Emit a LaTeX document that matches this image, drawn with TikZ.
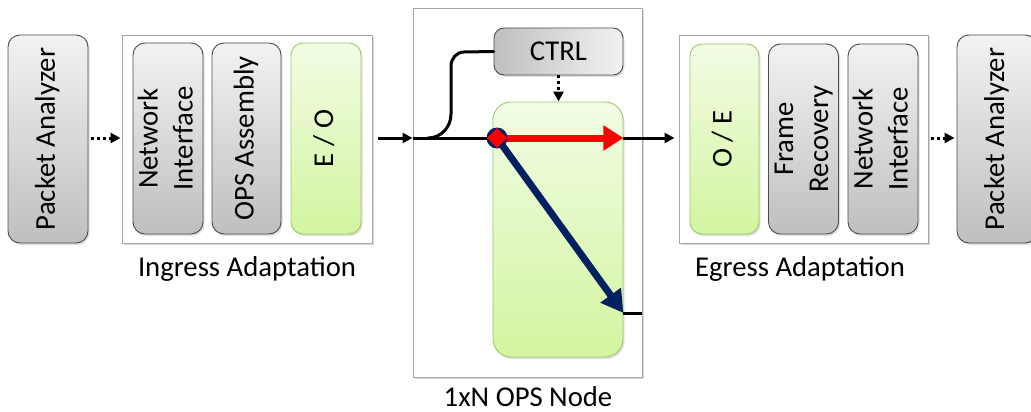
\documentclass[tikz,border=0pt]{standalone}
\usepackage{fontspec}
\setmainfont{Carlito}
\usetikzlibrary{arrows.meta,shadows,calc}
\definecolor{boxgraytop}{HTML}{F2F2F2}
\definecolor{boxgraybot}{HTML}{BFBFBF}
\definecolor{greentop}{HTML}{F2FCE4}
\definecolor{greenbot}{HTML}{D3F5A0}
\definecolor{greenline}{HTML}{9CC96B}
\definecolor{navy}{HTML}{002060}
\definecolor{framegray}{HTML}{A6A6A6}
\newcommand{\vtext}[1]{\rotatebox{90}{\begin{tabular}{@{}c@{}}#1\end{tabular}}}
\begin{document}
\begin{tikzpicture}[x=1pt,y=-1pt,
  font=\fontsize{28.7}{35}\selectfont,
  boxbase/.style={line width=0.9pt,rounded corners=12pt,inner sep=0pt,
    drop shadow={shadow xshift=1.5pt,shadow yshift=-2pt,opacity=0.25}},
  graybox/.style={boxbase,draw=black!70,top color=boxgraytop,bottom color=boxgraybot},
  ctrlbox/.style={boxbase,draw=black!70,rounded corners=10pt,left color=boxgraybot,right color=boxgraytop},
  greenbox/.style={boxbase,draw=greenline,top color=greentop,bottom color=greenbot},
  frame/.style={draw=framegray,line width=0.9pt,fill=white,inner sep=0pt,
    drop shadow={shadow xshift=2pt,shadow yshift=-2pt,opacity=0.3}},
  link/.style={line width=3pt,-{Triangle[length=10pt,width=10pt]}},
  dotlink/.style={line width=3pt,dash pattern=on 3pt off 3pt,-{Triangle[length=10pt,width=10pt]}},
  caption/.style={inner sep=0pt,anchor=base}]
\clip (0,0) rectangle (1031,412);
\fill[white] (0,0) rectangle (1031,412);

% left analyser and ingress adaptation
\node[graybox,minimum width=80,minimum height=208] (pa1) at (48,139) {\vtext{Packet Analyzer}};
\node[frame,minimum width=250,minimum height=208] (ing) at (247,139) {};
\node[graybox,minimum width=70,minimum height=191] (ni1) at (168,138.5) {\vtext{Network\\Interface}};
\node[graybox,minimum width=69,minimum height=191] (opsa) at (246.5,138.5) {\vtext{OPS Assembly}};
\node[greenbox,minimum width=70,minimum height=191] (eo) at (326,138.5) {\vtext{E / O}};
\node[caption] (inglab) at (247,276.5) {Ingress Adaptation};

% optical packet switch node
\node[frame,minimum width=229,minimum height=369] (ops) at (527.5,192.5) {};
\node[ctrlbox,minimum width=129,minimum height=47] (ctrl) at (558.5,51.5) {CTRL};
\node[greenbox,rounded corners=18pt,minimum width=130,minimum height=255] (sw) at (558,229.5) {};
\node[caption] (opslab) at (528,406) {1xN OPS Node};

% egress adaptation and right analyser
\node[frame,minimum width=249,minimum height=208] (egr) at (803.5,139) {};
\node[greenbox,minimum width=69,minimum height=190] (oe) at (724.5,139) {\vtext{O / E}};
\node[graybox,minimum width=69,minimum height=190] (fr) at (803.5,139) {\vtext{Frame\\Recovery}};
\node[graybox,minimum width=70,minimum height=190] (ni2) at (883,139) {\vtext{Network\\Interface}};
\node[graybox,minimum width=80,minimum height=208] (pa2) at (997,139) {\vtext{Packet Analyzer}};
\node[caption] (egrlab) at (800,276) {Egress Adaptation};

% switching point and paths
\coordinate (sp) at (497,138);
\coordinate (out2) at (sw.east |- 0,313);
\coordinate (in) at (ops.west |- 0,138);

\draw[dotlink] ([xshift=3pt]pa1.east |- 0,138) -- ([xshift=-1pt]ing.west |- 0,138);
\draw[link] ([xshift=6pt]ing.east |- 0,138) -- (in);
\draw[line width=3pt] (in) -- (sp);
\draw[line width=3pt,line cap=round] (ctrl.west) -- (464,52) to[out=180,in=90] (451,66) -- (451,114)
  to[out=-90,in=0] (428,138);
\draw[dotlink] (ctrl.south) -- (ctrl.south |- sw.north);
\draw[link] (sw.east |- 0,138) -- ([xshift=-4pt]egr.west |- 0,138);
\draw[dotlink] ([xshift=3pt]egr.east |- 0,138) -- ([xshift=-2pt]pa2.west |- 0,138);
\draw[line width=3pt] (out2) -- (ops.east |- out2);

\draw[navy,line width=7pt,-{Triangle[length=22pt,width=24pt]}] (sp) -- (out2);
\draw[red,line width=7pt,-{Triangle[length=20pt,width=24pt]}] (sp) -- (sw.east |- 0,138);
\fill[navy] (sp) circle (10.5);
\fill[red] ($(sp)+(-10,0)$) -- ($(sp)+(0,-10)$) -- ($(sp)+(10,0)$) -- ($(sp)+(0,10)$) -- cycle;
\end{tikzpicture}
\end{document}
